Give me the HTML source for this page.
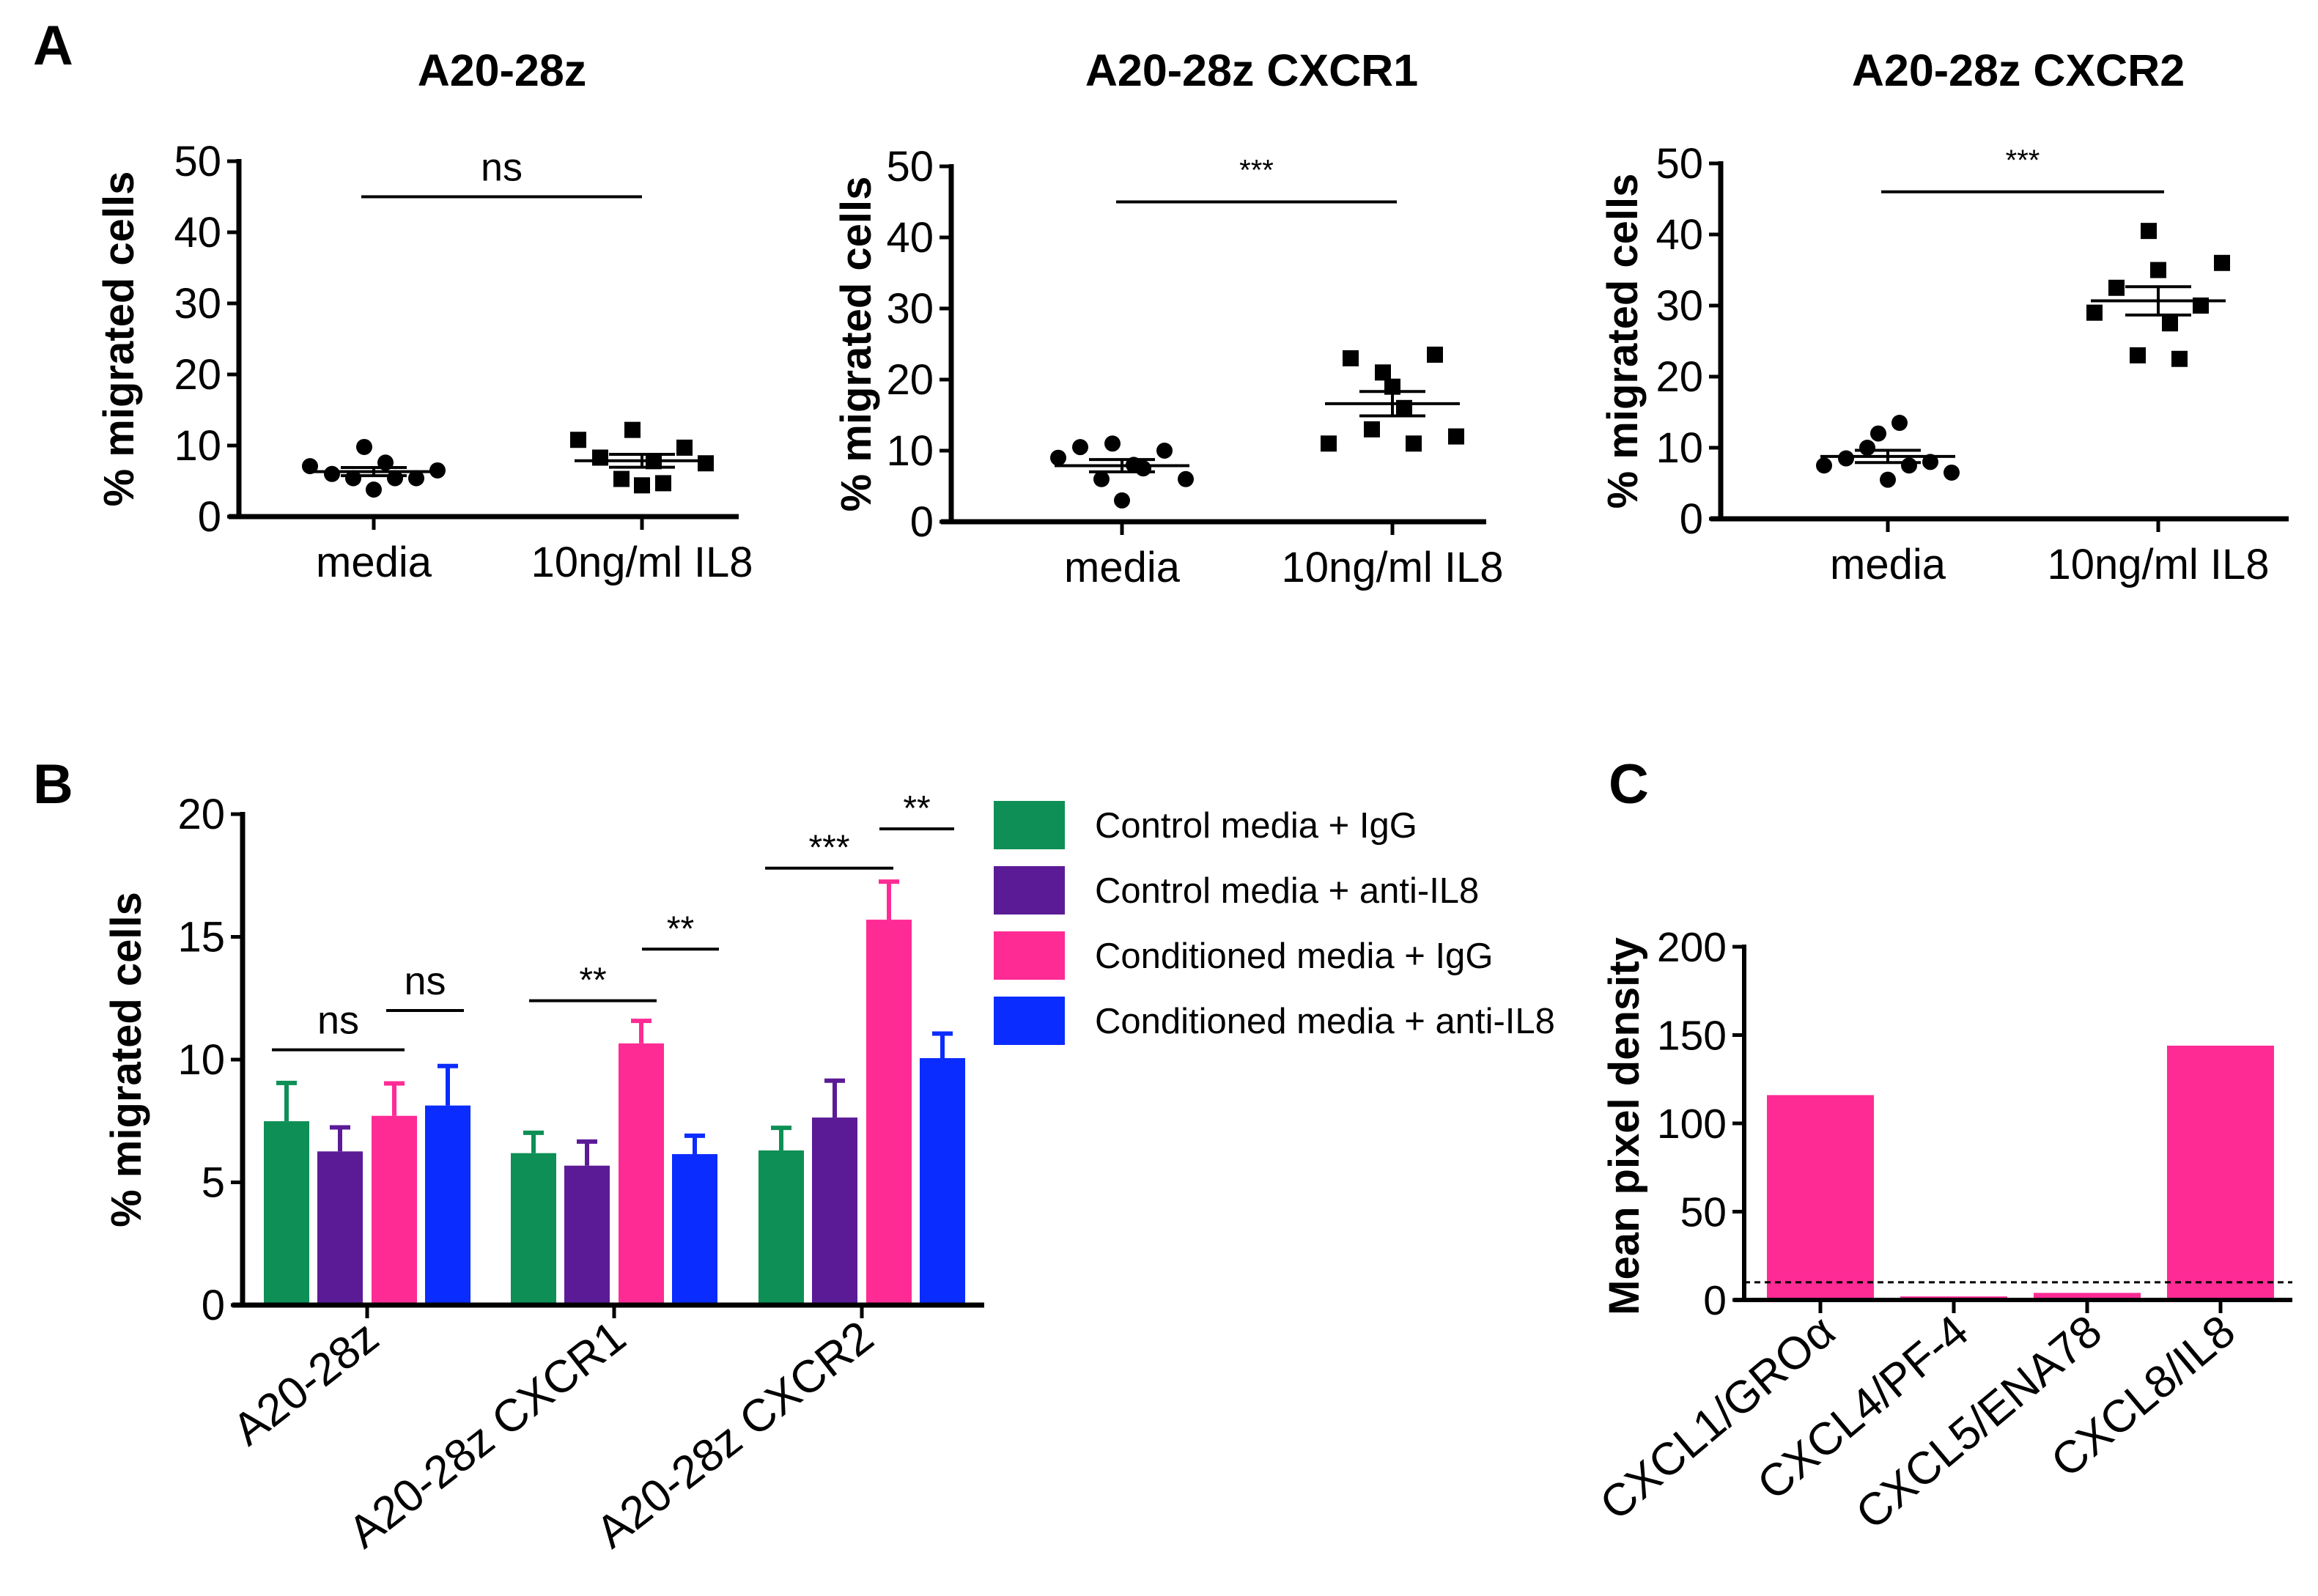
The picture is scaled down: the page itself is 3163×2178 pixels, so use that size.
<!DOCTYPE html>
<html><head><meta charset="utf-8"><style>
html,body{margin:0;padding:0;background:#fff;}
svg{display:block;font-family:"Liberation Sans",Arial,sans-serif;}
</style></head><body>
<svg id="fig" width="3163" height="2178" viewBox="0 0 3163 2178" xmlns="http://www.w3.org/2000/svg">
<text x="45" y="88" font-size="76" font-weight="bold">A</text>
<text x="45" y="1096" font-size="76" font-weight="bold">B</text>
<text x="2195" y="1096" font-size="76" font-weight="bold">C</text>
</svg>
<script>
// ---- Panel A data ----
const aTitles = ["A20-28z", "A20-28z CXCR1", "A20-28z CXCR2"];
const aCategories = ["media", "10ng/ml IL8"];
const aTicks = [0, 10, 20, 30, 40, 50];
const aMedia1 = [7.1, 6.0, 5.4, 9.8, 3.8, 7.6, 5.4, 5.4, 6.5];
const aIL8_1 = [10.8, 8.3, 5.3, 12.2, 4.4, 7.8, 4.7, 9.7, 7.5];
const aMedia2 = [9.0, 10.5, 6.0, 11.0, 3.0, 8.0, 7.5, 10.0, 6.0];
const aIL8_2 = [11.0, 23.0, 13.0, 21.0, 19.0, 16.0, 11.0, 23.5, 12.0];
const aMedia3 = [7.5, 8.5, 10.0, 12.0, 5.5, 13.5, 7.5, 8.0, 6.5];
const aIL8_3 = [29.0, 32.5, 23.0, 40.5, 35.0, 27.5, 22.5, 30.0, 36.0];
const aSig = ["ns", "***", "***"];
const aSigValue = [45, 45, 46];
// ---- Panel B data ----
const bCategories = ["A20-28z", "A20-28z CXCR1", "A20-28z CXCR2"];
const bSeriesNames = ["Control media + IgG", "Control media + anti-IL8", "Conditioned media + IgG", "Conditioned media + anti-IL8"];
const bGreen = [7.49, 6.19, 6.30];
const bPurple = [6.26, 5.68, 7.64];
const bPink = [7.71, 10.66, 15.70];
const bBlue = [8.13, 6.15, 10.06];
const bGreenErr = [1.56, 0.83, 0.92];
const bPurpleErr = [0.98, 0.98, 1.50];
const bPinkErr = [1.32, 0.92, 1.55];
const bBlueErr = [1.61, 0.75, 1.00];
const bTicks = [0, 5, 10, 15, 20];
const bSigLabels = ["ns", "ns", "**", "**", "***", "**"];
const bSigValues = [10.4, 12.0, 12.4, 14.5, 17.8, 19.4];
// ---- Panel C data ----
const cCategories = ["CXCL1/GROα", "CXCL4/PF-4", "CXCL5/ENA78", "CXCL8/IL8"];
const cValues = [116, 2, 4, 144];
const cTicks = [0, 50, 100, 150, 200];
const cThreshold = 10;

const NS = "http://www.w3.org/2000/svg";
const svg = document.getElementById("fig");
function mk(tag, attrs, parent, text) {
  const e = document.createElementNS(NS, tag);
  for (const k in attrs) e.setAttribute(k, attrs[k]);
  if (text !== undefined) e.textContent = text;
  (parent || svg).appendChild(e);
  return e;
}
const colors = ["#0d8f55", "#5b1b96", "#ff2b95", "#0b2cff"];

// ---- Panel A ----
const aLayout = [
  {ax: 326, y0: 705, y50: 220, xEnd: 1008, c: [510, 876], title: 685, ytx: 162, sigX: [493, 876]},
  {ax: 1298, y0: 712, y50: 227, xEnd: 2028, c: [1531, 1900], title: 1708, ytx: 1168, sigX: [1523, 1906]},
  {ax: 2348, y0: 708, y50: 223, xEnd: 3123, c: [2576, 2945], title: 2754, ytx: 2214, sigX: [2567, 2953]}
];
const aData = [[aMedia1, aIL8_1], [aMedia2, aIL8_2], [aMedia3, aIL8_3]];
const jitter = [-87, -57, -28, -13, 0, 16, 29, 58, 87];
aLayout.forEach((L, p) => {
  const g = mk("g", {});
  
  
  const y = v => L.y0 - (v / 50) * (L.y0 - L.y50);
  const t = mk("text", {x: L.title, y: 117, "font-size": 61, "font-weight": "bold", "text-anchor": "middle"}, g, aTitles[p]);
  
  
  const yt = mk("text", {x: 0, y: 0, "font-size": 58, "font-weight": "bold", "text-anchor": "middle", transform: `translate(${L.ytx + 20},${(L.y0 + L.y50) / 2}) rotate(-90)`}, g, "% migrated cells");
  
  
  mk("line", {x1: L.ax, y1: y(50) - 3, x2: L.ax, y2: L.y0 + 3, stroke: "#000", "stroke-width": 7}, g);
  mk("line", {x1: L.ax - 14, y1: L.y0, x2: L.xEnd, y2: L.y0, stroke: "#000", "stroke-width": 7}, g);
  aTicks.forEach(v => {
    mk("line", {x1: L.ax - 16, y1: y(v), x2: L.ax, y2: y(v), stroke: "#000", "stroke-width": 5}, g);
    const tl = mk("text", {x: L.ax - 24, y: y(v) + 20, "font-size": 58, "text-anchor": "end"}, g, String(v));
    
    
  });
  aCategories.forEach((c, i) => {
    mk("line", {x1: L.c[i], y1: L.y0, x2: L.c[i], y2: L.y0 + 18, stroke: "#000", "stroke-width": 5}, g);
    const cl = mk("text", {x: L.c[i], y: L.y0 + 82, "font-size": 58, "text-anchor": "middle"}, g, c);
    
    
    const vals = aData[p][i];
    vals.forEach((v, k) => {
      let m;
      if (i === 0) m = mk("circle", {cx: L.c[i] + jitter[k], cy: y(v), r: 11, fill: "#000"}, g);
      else m = mk("rect", {x: L.c[i] + jitter[k] - 11, y: y(v) - 11, width: 22, height: 22, fill: "#000"}, g);
      
      
    });
    const mean = vals.reduce((a, b) => a + b, 0) / vals.length;
    const sd = Math.sqrt(vals.reduce((a, b) => a + (b - mean) * (b - mean), 0) / (vals.length - 1));
    const sem = sd / Math.sqrt(vals.length);
    const ml = mk("line", {x1: L.c[i] - 92, y1: y(mean), x2: L.c[i] + 92, y2: y(mean), stroke: "#000", "stroke-width": 4}, g);
    
    
    mk("line", {x1: L.c[i] - 45, y1: y(mean + sem), x2: L.c[i] + 45, y2: y(mean + sem), stroke: "#000", "stroke-width": 4}, g);
    mk("line", {x1: L.c[i] - 45, y1: y(mean - sem), x2: L.c[i] + 45, y2: y(mean - sem), stroke: "#000", "stroke-width": 4}, g);
    mk("line", {x1: L.c[i], y1: y(mean + sem), x2: L.c[i], y2: y(mean - sem), stroke: "#000", "stroke-width": 4}, g);
  });
  const sy = y(aSigValue[p]);
  const sl = mk("line", {x1: L.sigX[0], y1: sy, x2: L.sigX[1], y2: sy, stroke: "#000", "stroke-width": 4}, g);
  
  
  const st = mk("text", {x: (L.sigX[0] + L.sigX[1]) / 2, y: sy - (aSig[p] === "ns" ? 22 : 30), "font-size": aSig[p] === "ns" ? 54 : 40, "text-anchor": "middle"}, g, aSig[p]);
  
  
});

// ---- Panel B ----
(function () {
  const g = mk("g", {});
  
  
  const ax = 331, y0 = 1781, y20 = 1111, xEnd = 1343;
  const y = v => y0 - (v / 20) * (y0 - y20);
  const centers = [501, 838, 1176];
  const offs = [-110, -37, 37, 110];
  const series = [bGreen, bPurple, bPink, bBlue];
  const errs = [bGreenErr, bPurpleErr, bPinkErr, bBlueErr];
  series.forEach((s, si) => {
    s.forEach((v, ci) => {
      const cx = centers[ci] + offs[si];
      const e = errs[si][ci];
      mk("line", {x1: cx, y1: y(v), x2: cx, y2: y(v + e), stroke: colors[si], "stroke-width": 6}, g);
      mk("line", {x1: cx - 14, y1: y(v + e), x2: cx + 14, y2: y(v + e), stroke: colors[si], "stroke-width": 6}, g);
      const b = mk("rect", {x: cx - 31, y: y(v), width: 62, height: y0 - y(v), fill: colors[si]}, g);
      
      
    });
  });
  mk("line", {x1: ax, y1: y(20) - 3, x2: ax, y2: y0 + 3, stroke: "#000", "stroke-width": 7}, g);
  mk("line", {x1: ax - 14, y1: y0, x2: xEnd, y2: y0, stroke: "#000", "stroke-width": 7}, g);
  bTicks.forEach(v => {
    mk("line", {x1: ax - 16, y1: y(v), x2: ax, y2: y(v), stroke: "#000", "stroke-width": 5}, g);
    const tl = mk("text", {x: ax - 24, y: y(v) + 20, "font-size": 58, "text-anchor": "end"}, g, String(v));
    
    
  });
  const yt = mk("text", {x: 0, y: 0, "font-size": 58, "font-weight": "bold", "text-anchor": "middle", transform: `translate(192,${(y0 + y20) / 2}) rotate(-90)`}, g, "% migrated cells");
  
  
  bCategories.forEach((c, i) => {
    mk("line", {x1: centers[i], y1: y0, x2: centers[i], y2: y0 + 18, stroke: "#000", "stroke-width": 5}, g);
    const cl = mk("text", {x: 0, y: 0, "font-size": 62, "text-anchor": "end", transform: `translate(${centers[i] + 20},${y0 + 52}) rotate(-38)`}, g, c);
    
    
  });
  const sigX = [[371, 552], [527, 633], [722, 896], [876, 981], [1044, 1219], [1200, 1302]];
  bSigValues.forEach((v, i) => {
    const sy = y(v);
    const sl = mk("line", {x1: sigX[i][0], y1: sy, x2: sigX[i][1], y2: sy, stroke: "#000", "stroke-width": 4}, g);
    
    
    const isNs = bSigLabels[i] === "ns";
    const st = mk("text", {x: (sigX[i][0] + sigX[i][1]) / 2, y: sy - (isNs ? 22 : 12), "font-size": isNs ? 54 : 48, "text-anchor": "middle"}, g, bSigLabels[i]);
    
    
  });
  const ly = [1126, 1215, 1304, 1393];
  bSeriesNames.forEach((n, i) => {
    const lg = mk("g", {}, g);
    
    
    mk("rect", {x: 1356, y: ly[i] - 33, width: 97, height: 66, fill: colors[i]}, lg);
    mk("text", {x: 1494, y: ly[i] + 17, "font-size": 49}, lg, n);
  });
})();

// ---- Panel C ----
(function () {
  const g = mk("g", {});
  
  
  const ax = 2380, y0 = 1774, y200 = 1292, xEnd = 3128;
  const y = v => y0 - (v / 200) * (y0 - y200);
  const centers = [2484, 2666, 2848, 3030];
  cValues.forEach((v, i) => {
    const b = mk("rect", {x: centers[i] - 73, y: y(v), width: 146, height: Math.max(y0 - y(v), 2), fill: "#ff2b95"}, g);
    
    
  });
  const th = mk("line", {x1: ax, y1: y(cThreshold), x2: xEnd, y2: y(cThreshold), stroke: "#000", "stroke-width": 3, "stroke-dasharray": "8,6"}, g);
  
  
  mk("line", {x1: ax, y1: y(200) - 3, x2: ax, y2: y0 + 3, stroke: "#000", "stroke-width": 6}, g);
  mk("line", {x1: ax - 14, y1: y0, x2: xEnd, y2: y0, stroke: "#000", "stroke-width": 6}, g);
  cTicks.forEach(v => {
    mk("line", {x1: ax - 16, y1: y(v), x2: ax, y2: y(v), stroke: "#000", "stroke-width": 5}, g);
    const tl = mk("text", {x: ax - 24, y: y(v) + 20, "font-size": 57, "text-anchor": "end"}, g, String(v));
    
    
  });
  const yt = mk("text", {x: 0, y: 0, "font-size": 58, "font-weight": "bold", "text-anchor": "middle", transform: `translate(2236,1537) rotate(-90)`}, g, "Mean pixel density");
  
  
  cCategories.forEach((c, i) => {
    mk("line", {x1: centers[i], y1: y0, x2: centers[i], y2: y0 + 18, stroke: "#000", "stroke-width": 5}, g);
    const cl = mk("text", {x: 0, y: 0, "font-size": 62, "text-anchor": "end", transform: `translate(${centers[i] + 24},${y0 + 50}) rotate(-40)`}, g, c);
    
    
  });
})();
</script>
</body></html>
